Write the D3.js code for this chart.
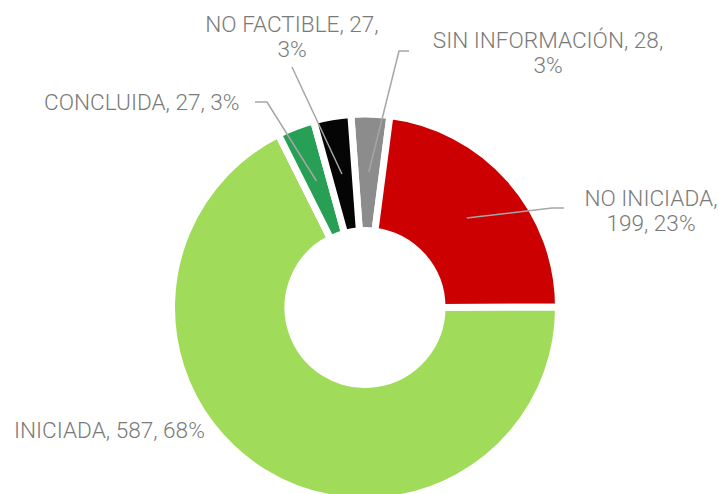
<!DOCTYPE html>
<html>
<head>
<meta charset="utf-8">
<script src="https://cdn.jsdelivr.net/npm/d3@7"></script>
<style>
  html, body { margin: 0; padding: 0; background: #fff; }
  svg { display: block; }
  .lbl { font-family: Roboto, "Open Sans", sans-serif; font-weight: 300; fill: #7a7a7a; }
</style>
</head>
<body>
<svg id="chart" width="719" height="494"></svg>
<script>
// ---- data ----
const categories = ["SIN INFORMACIÓN", "NO INICIADA", "INICIADA", "CONCLUIDA", "NO FACTIBLE"];
const values = [28, 199, 587, 27, 27];
const percents = ["3%", "23%", "68%", "3%", "3%"];
const colors = ["#8c8c8c", "#cc0000", "#a0dc5a", "#27a055", "#050505"];

// ---- label layout (positions only) ----
const labelLayout = [
  { lines: [categories[0] + ", " + values[0] + ",", percents[0]], x: 548, y: 48, anchor: "middle", leader: [[409, 51], [399, 51]] },
  { lines: [categories[1] + ",", values[1] + ", " + percents[1]], x: 651, y: 206, anchor: "middle", leader: [[564, 208], [552, 208]] },
  { lines: [categories[2] + ", " + values[2] + ", " + percents[2]], x: 14, y: 438, anchor: "start", leader: null },
  { lines: [categories[3] + ", " + values[3] + ", " + percents[3]], x: 44, y: 110, anchor: "start", leader: [[255, 102], [267, 102]] },
  { lines: [categories[4] + ", " + values[4] + ",", percents[4]], x: 292, y: 32, anchor: "middle", leader: [[292, 67]] }
];

const W = 719, H = 494;
const cx = 365, cy = 307.5;
const outerR = 193.5, innerR = 77;
const startDeg = -4.2;

const svg = d3.select("#chart");
const g = svg.append("g").attr("transform", `translate(${cx},${cy})`);

const pie = d3.pie().sort(null).value(d => d)
  .startAngle(startDeg * Math.PI / 180)
  .endAngle((startDeg + 360) * Math.PI / 180);
const arcs = pie(values);
const arc = d3.arc().innerRadius(innerR).outerRadius(outerR);
const midArc = d3.arc().innerRadius(135.5).outerRadius(135.5);

g.selectAll("path.slice").data(arcs).join("path")
  .attr("class", "slice")
  .attr("d", arc)
  .attr("fill", (d, i) => colors[i])
  .attr("stroke", "#fff")
  .attr("stroke-width", 7)
  .attr("stroke-linejoin", "miter");

// leader lines
const line = d3.line();
labelLayout.forEach((L, i) => {
  if (!L.leader) return;
  const c = midArc.centroid(arcs[i]);
  const pts = L.leader.concat([[c[0] + cx, c[1] + cy]]);
  svg.append("path")
    .attr("d", line(pts))
    .attr("fill", "none")
    .attr("stroke", "#a6a6a6")
    .attr("stroke-width", 1.5);
});

// labels
labelLayout.forEach((L) => {
  const t = svg.append("text")
    .attr("class", "lbl")
    .attr("font-size", 22.6)
    .attr("text-anchor", L.anchor)
    .attr("x", L.x).attr("y", L.y);
  L.lines.forEach((s, k) => {
    t.append("tspan").attr("x", L.x).attr("dy", k === 0 ? 0 : 25).text(s);
  });
});
</script>
</body>
</html>
